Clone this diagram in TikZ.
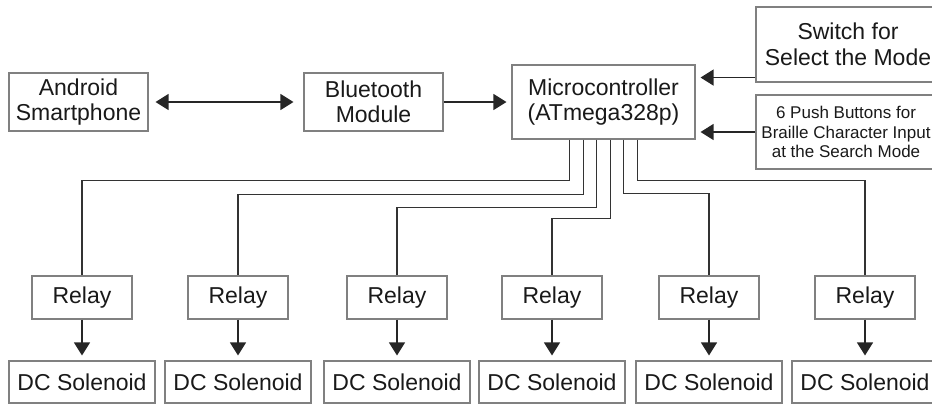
\documentclass[tikz,border=0pt]{standalone}
\usepackage{fontspec}
\setmainfont{Liberation Sans}
\usetikzlibrary{arrows.meta,positioning}
\begin{document}
\begin{tikzpicture}[x=1pt,y=-1pt,
   font=\fontsize{23}{25.5}\selectfont,
   box/.style={draw=black!50,line width=1.1pt,align=center,inner sep=0pt,text=black!90},
   relay/.style={box,minimum width=100,minimum height=43},
   sol/.style={box,minimum width=146,minimum height=42},
   arr/.style={-{Triangle[length=13pt,width=16pt]},line width=1.2pt,draw=black!85,shorten >=5pt},
   wire/.style={line width=1.2pt,draw=black!80}]
\useasboundingbox (0,0) rectangle (932,405);
\node[box,minimum width=139,minimum height=58] (phone) at (78.5,102) {Android\\Smartphone};
\node[box,minimum width=139,minimum height=58] (bt) at (373.5,102) {Bluetooth\\Module};
\node[box,minimum width=183,minimum height=74] (mc) at (603.5,102) {Microcontroller\\(ATmega328p)};
\node[box,minimum width=184,minimum height=75] (sw) at (848,44.5) {Switch for\\Select the Mode};
\node[box,minimum width=180,minimum height=74,font=\fontsize{17}{19.5}\selectfont] (pb) at (846,132)
   {6 Push Buttons for\\Braille Character Input\\at the Search Mode};
\draw[arr,{Triangle[length=13pt,width=16pt]}-{Triangle[length=13pt,width=16pt]},shorten <=7pt,shorten >=10pt] (phone) -- (bt);
\draw[arr] (bt) -- (mc);
\draw[arr] ([yshift=5pt]sw.south west) -- ([yshift=5pt]sw.south west -| mc.east);
\draw[arr] (pb.west) -- (pb.west -| mc.east);
% relays and solenoids
\foreach \i/\x in {1/82,2/238,3/397,4/552,5/709,6/865}{
  \node[relay] (r\i) at (\x,297.5) {Relay};
  \node[sol] (s\i) at (\x,382) {DC Solenoid};
  \draw[arr] (r\i) -- (s\i);
}
% outputs of the controller
\foreach \i/\dx/\dy in {1/-34/41,2/-20/55,3/-7/68,4/7/79,5/20/54,6/34/41}
  \draw[wire] ([xshift=\dx pt]mc.south) -- ++(0,\dy) -| (r\i.north);
\end{tikzpicture}
\end{document}
